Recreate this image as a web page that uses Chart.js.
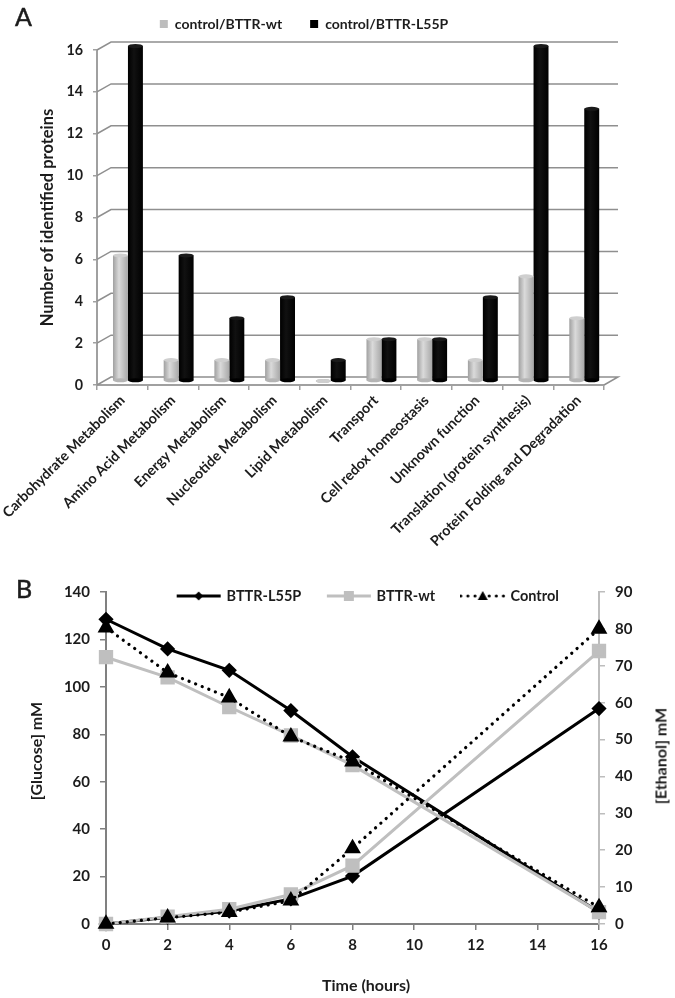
<!DOCTYPE html>
<html>
<head>
<meta charset="utf-8">
<title>BTTR proteins and fermentation</title>
<script src="https://cdn.jsdelivr.net/npm/chart.js@4"></script>
<style>
  html, body { margin: 0; padding: 0; background: #fff; }
  body { position: relative; width: 675px; height: 998px; overflow: hidden; font-family: Lato, sans-serif; color: #1c1c1c; filter: blur(0.4px); }
  canvas { position: absolute; left: 0; }
  #graficaA { top: -2px; }
  #graficaB { top: 540px; }
  .txt { position: absolute; white-space: nowrap; font-weight: 700; }
  .letra { font-size: 25px; font-weight: 400; -webkit-text-stroke: 0.5px #1c1c1c; }
  .vert { font-size: 16px; transform: translate(-50%, -50%) rotate(-90deg); }
</style>
</head>
<body>
<canvas id="graficaA" width="675" height="562"></canvas>
<canvas id="graficaB" width="675" height="458"></canvas>
<div class="txt letra" style="left:15px;top:1px">A</div>
<div class="txt letra" style="left:16px;top:573px">B</div>
<div class="txt vert" style="left:35px;top:751px">[Glucose] mM</div>
<div class="txt vert" style="left:660px;top:756px">[Ethanol] mM</div>
<div class="txt" style="left:322px;top:975px;font-size:16px">Time (hours)</div>

<script>
const categories = ['Carbohydrate Metabolism', 'Amino Acid Metabolism', 'Energy Metabolism', 'Nucleotide Metabolism',
  'Lipid Metabolism', 'Transport', 'Cell redox homeostasis', 'Unknown function',
  'Translation (protein synthesis)', 'Protein Folding and Degradation'];
const countsWt = [6, 1, 1, 1, 0, 2, 2, 1, 5, 3];
const countsL55P = [16, 6, 3, 4, 1, 2, 2, 4, 16, 13];

const hours = [0, 2, 4, 6, 8, 16];
const glucoseL55P = [128.5, 116, 107, 90, 70.5, 5];
const glucoseWt = [112.5, 104, 91.5, 79.5, 67, 5];
const glucoseControl = [125, 106, 95.5, 79, 68.5, 7];
const ethanolL55P = [0, 1.8, 3.5, 6.8, 13, 58.4];
const ethanolWt = [0, 2, 4, 8, 15.8, 74];
const ethanolControl = [0, 1.7, 3.2, 6.3, 20.5, 80];

const textColor = '#1c1c1c';
const tickFont = { family: 'Lato', size: 14.3, weight: 'bold' };

// profundidad del efecto 3D de la grafica A
const DEPTH_X = 14, DEPTH_Y = 8;

function cylinderFill(c, stops) {
  const chart = c.chart;
  const x = chart.scales.x;
  if (!x || c.dataIndex === undefined) return stops[0];
  const step = x.width / categories.length;
  const w = step * 0.59 / 2;
  const left = x.getPixelForValue(c.dataIndex) + (c.datasetIndex === 0 ? -w : 0);
  const g = chart.ctx.createLinearGradient(left, 0, left + w, 0);
  g.addColorStop(0, stops[0]);
  g.addColorStop(0.4, stops[1]);
  g.addColorStop(1, stops[2]);
  return g;
}

const wall3d = {
  id: 'wall3d',
  beforeDatasetsDraw(chart) {
    const { ctx, scales: { x, y } } = chart;
    ctx.save();
    ctx.strokeStyle = '#8f8f8f';
    ctx.lineWidth = 1.5;
    y.ticks.forEach(t => {
      const py = y.getPixelForValue(t.value);
      ctx.beginPath();
      ctx.moveTo(x.left, py);
      ctx.lineTo(x.left + DEPTH_X, py - DEPTH_Y);
      ctx.lineTo(x.right + DEPTH_X, py - DEPTH_Y);
      if (t.value === 0) ctx.lineTo(x.right, py);
      ctx.stroke();
    });
    ctx.restore();
    // las barras van a media profundidad
    ctx.save();
    ctx.translate(DEPTH_X * 0.4, -DEPTH_Y * 0.5);
  },
  afterDatasetsDraw(chart) {
    const { ctx } = chart;
    [1, 0].forEach(i => {
      const isWt = i === 0;
      chart.getDatasetMeta(i).data.forEach(bar => {
        const rx = bar.width / 2;
        ctx.fillStyle = isWt ? '#b4b4b4' : '#000';
        ctx.beginPath();
        ctx.ellipse(bar.x, bar.base, rx, 2, 0, 0, Math.PI * 2);
        ctx.fill();
        ctx.fillStyle = isWt ? '#cfcfcf' : '#1a1a1a';
        ctx.beginPath();
        ctx.ellipse(bar.x, bar.y, rx, 2, 0, 0, Math.PI * 2);
        ctx.fill();
      });
    });
    ctx.restore();
  }
};

// la leyenda se pinta encima del area, donde esta en el original
function moveLegend(id, top, shiftX) {
  return {
    id: id,
    afterLayout(chart) {
      const lg = chart.legend;
      const h = lg.bottom - lg.top;
      lg.top = top;
      lg.bottom = top + h;
      lg.left += shiftX;
      lg.right += shiftX;
    }
  };
}

new Chart(document.getElementById('graficaA'), {
  type: 'bar',
  data: {
    labels: categories,
    datasets: [
      { label: 'control/BTTR-wt', data: countsWt, backgroundColor: c => cylinderFill(c, ['#a0a0a0', '#dadada', '#a8a8a8']), legendColor: '#bdbdbd' },
      { label: 'control/BTTR-L55P', data: countsL55P, backgroundColor: c => cylinderFill(c, ['#000', '#111', '#000']), legendColor: '#000' }
    ]
  },
  plugins: [wall3d, moveLegend('moveLegendA', -9, -17)],
  options: {
    responsive: false,
    animation: false,
    layout: { autoPadding: false, padding: { left: 38, right: 71, top: 0, bottom: 0 } },
    datasets: { bar: { categoryPercentage: 0.59, barPercentage: 1, clip: false } },
    scales: {
      x: {
        grid: { drawOnChartArea: false, color: '#a0a0a0', lineWidth: 1.5, tickLength: 5 },
        border: { color: '#a0a0a0', width: 2 },
        ticks: { color: textColor, font: tickFont, autoSkip: false, minRotation: 45, maxRotation: 45, padding: 2 },
        // sin esto las etiquetas giradas empujan el area hacia la derecha
        afterFit: s => { s.height = 175; s.paddingLeft = 0; s.paddingRight = 0; }
      },
      y: {
        min: 0,
        max: 16,
        grid: { drawOnChartArea: false, color: '#a0a0a0', lineWidth: 1.5, tickLength: 4 },
        border: { color: '#a0a0a0', width: 2 },
        ticks: { color: textColor, font: tickFont, stepSize: 2, padding: 10 },
        title: { display: true, text: 'Number of identified proteins', color: textColor, font: { family: 'Lato', size: 16.5, weight: 'bold' }, padding: 0 },
        afterFit: s => { s.width = 59; }
      }
    },
    plugins: {
      tooltip: { enabled: false },
      legend: {
        position: 'top',
        labels: {
          color: textColor,
          font: { family: 'Lato', size: 14, weight: 'bold' },
          boxWidth: 8,
          boxHeight: 8,
          padding: 28,
          generateLabels: chart => chart.data.datasets.map((d, i) => ({
            text: d.label,
            fillStyle: d.legendColor,
            strokeStyle: d.legendColor,
            lineWidth: 0,
            datasetIndex: i,
            fontColor: textColor
          }))
        }
      }
    }
  }
});

// muestras de leyenda: linea con marcador
function makeKey(color, dotted, marker) {
  const key = document.createElement('canvas');
  key.width = 46;
  key.height = 14;
  const k = key.getContext('2d');
  k.strokeStyle = color;
  k.fillStyle = color;
  k.lineWidth = 3;
  k.lineCap = dotted ? 'round' : 'butt';
  if (dotted) k.setLineDash([0.1, 7]);
  k.beginPath();
  k.moveTo(1, 7);
  k.lineTo(45, 7);
  k.stroke();
  k.beginPath();
  if (marker === 'diamond') { k.moveTo(23, 2.5); k.lineTo(27.5, 7); k.lineTo(23, 11.5); k.lineTo(18.5, 7); }
  if (marker === 'square') { k.rect(18, 2, 10, 10); }
  if (marker === 'triangle') { k.moveTo(23, 2); k.lineTo(28, 11); k.lineTo(18, 11); }
  k.fill();
  return key;
}

const keysB = [makeKey('#000', false, 'diamond'), makeKey('#bfbfbf', false, 'square'), makeKey('#000', true, 'triangle')];

function series(values) {
  return hours.map((h, i) => ({ x: h, y: values[i] }));
}

const l55pStyle = { borderColor: '#000', backgroundColor: '#000', borderWidth: 3, pointStyle: 'rectRot', pointRadius: 5.5, order: 3 };
const wtStyle = { borderColor: '#bfbfbf', backgroundColor: '#bfbfbf', borderWidth: 3, pointStyle: 'rect', pointRadius: 8, order: 2 };
const controlStyle = { borderColor: '#000', backgroundColor: '#000', borderWidth: 3.2, borderDash: [0.1, 7], borderCapStyle: 'round', pointStyle: 'triangle', pointRadius: 6.5, order: 1 };

new Chart(document.getElementById('graficaB'), {
  type: 'line',
  data: {
    datasets: [
      { label: 'BTTR-L55P', data: series(glucoseL55P), yAxisID: 'y', ...l55pStyle },
      { label: 'BTTR-wt', data: series(glucoseWt), yAxisID: 'y', ...wtStyle },
      { label: 'Control', data: series(glucoseControl), yAxisID: 'y', ...controlStyle },
      { label: 'BTTR-L55P ethanol', data: series(ethanolL55P), yAxisID: 'y2', ...l55pStyle },
      { label: 'BTTR-wt ethanol', data: series(ethanolWt), yAxisID: 'y2', ...wtStyle },
      { label: 'Control ethanol', data: series(ethanolControl), yAxisID: 'y2', ...controlStyle }
    ]
  },
  plugins: [moveLegend('moveLegendB', 21.75, 30)],
  options: {
    responsive: false,
    animation: false,
    layout: { autoPadding: false, padding: { left: 27, right: 25, top: 0.5, bottom: 0 } },
    datasets: { line: { clip: false, tension: 0 } },
    scales: {
      x: {
        type: 'linear',
        min: 0,
        max: 16,
        grid: { drawOnChartArea: false, color: '#808080', lineWidth: 1.5, tickLength: 6 },
        border: { color: '#808080', width: 2 },
        ticks: { color: textColor, font: { family: 'Lato', size: 15, weight: 'bold' }, stepSize: 2, padding: 6, maxRotation: 0 },
        afterFit: s => { s.height = 74; }
      },
      y: {
        position: 'left',
        min: 0,
        max: 140,
        grid: { drawOnChartArea: false, color: '#808080', lineWidth: 1.5, tickLength: 6 },
        border: { color: '#808080', width: 2 },
        ticks: { color: textColor, font: { family: 'Lato', size: 15, weight: 'bold' }, stepSize: 20, padding: 10 },
        afterFit: s => { s.width = 79; }
      },
      y2: {
        position: 'right',
        min: 0,
        max: 90,
        grid: { drawOnChartArea: false, color: '#bdbdbd', lineWidth: 1.5, tickLength: 6 },
        border: { color: '#bdbdbd', width: 2 },
        ticks: { color: textColor, font: { family: 'Lato', size: 15, weight: 'bold' }, stepSize: 10, padding: 10 },
        afterFit: s => { s.width = 51; }
      }
    },
    plugins: {
      tooltip: { enabled: false },
      legend: {
        position: 'top',
        labels: {
          color: textColor,
          font: { family: 'Lato', size: 14.5, weight: 'bold' },
          usePointStyle: true,
          pointStyleWidth: 41,
          padding: 27,
          generateLabels: chart => keysB.map((key, i) => ({
            text: chart.data.datasets[i].label,
            pointStyle: key,
            datasetIndex: i,
            fontColor: textColor,
            lineWidth: 0,
            fillStyle: '#000',
            strokeStyle: '#000'
          }))
        }
      }
    }
  }
});
</script>
</body>
</html>
